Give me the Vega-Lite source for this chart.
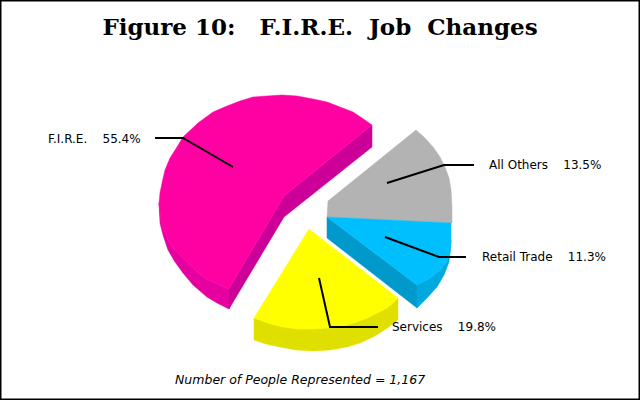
{
  "$schema": "https://vega.github.io/schema/vega-lite/v6.json",
  "width": 640,
  "height": 400,
  "padding": 0,
  "autosize": "none",
  "background": "white",
  "title": {"text": "Figure 10:\u00a0\u00a0\u00a0F.I.R.E.\u00a0\u00a0Job\u00a0\u00a0Changes", "font": "DejaVu Serif", "fontWeight": "bold", "fontSize": 23, "color": "black", "anchor": "middle", "offset": -40},
  "datasets": {
    "slices": [
      {"part": "fire_curve", "i": 1, "x": 159, "y": 203}, {"part": "fire_curve", "i": 2, "x": 160, "y": 213}, {"part": "fire_curve", "i": 3, "x": 161, "y": 220}, {"part": "fire_curve", "i": 4, "x": 164, "y": 230}, {"part": "fire_curve", "i": 5, "x": 168, "y": 240}, {"part": "fire_curve", "i": 6, "x": 174, "y": 249}, {"part": "fire_curve", "i": 7, "x": 182, "y": 257}, {"part": "fire_curve", "i": 8, "x": 192, "y": 267}, {"part": "fire_curve", "i": 9, "x": 203, "y": 277}, {"part": "fire_curve", "i": 10, "x": 215, "y": 283}, {"part": "fire_curve", "i": 11, "x": 229, "y": 289}, {"part": "fire_curve", "i": 12, "x": 229, "y": 309}, {"part": "fire_curve", "i": 13, "x": 217, "y": 303}, {"part": "fire_curve", "i": 14, "x": 207, "y": 297}, {"part": "fire_curve", "i": 15, "x": 193, "y": 285}, {"part": "fire_curve", "i": 16, "x": 183, "y": 273}, {"part": "fire_curve", "i": 17, "x": 175, "y": 262}, {"part": "fire_curve", "i": 18, "x": 168, "y": 250}, {"part": "fire_curve", "i": 19, "x": 163, "y": 235}, {"part": "fire_curve", "i": 20, "x": 160, "y": 223},
      {"part": "fire_side", "i": 1, "x": 229, "y": 289}, {"part": "fire_side", "i": 2, "x": 284, "y": 196}, {"part": "fire_side", "i": 3, "x": 372, "y": 125}, {"part": "fire_side", "i": 4, "x": 372, "y": 147}, {"part": "fire_side", "i": 5, "x": 284, "y": 217}, {"part": "fire_side", "i": 6, "x": 229, "y": 309},
      {"part": "fire", "i": 1, "x": 372, "y": 125}, {"part": "fire", "i": 2, "x": 362, "y": 118}, {"part": "fire", "i": 3, "x": 353, "y": 112}, {"part": "fire", "i": 4, "x": 340, "y": 107}, {"part": "fire", "i": 5, "x": 327, "y": 102}, {"part": "fire", "i": 6, "x": 313, "y": 99}, {"part": "fire", "i": 7, "x": 297, "y": 96}, {"part": "fire", "i": 8, "x": 282, "y": 95}, {"part": "fire", "i": 9, "x": 267, "y": 96}, {"part": "fire", "i": 10, "x": 253, "y": 97}, {"part": "fire", "i": 11, "x": 240, "y": 101}, {"part": "fire", "i": 12, "x": 227, "y": 106}, {"part": "fire", "i": 13, "x": 213, "y": 112}, {"part": "fire", "i": 14, "x": 198, "y": 123}, {"part": "fire", "i": 15, "x": 183, "y": 137}, {"part": "fire", "i": 16, "x": 177, "y": 147}, {"part": "fire", "i": 17, "x": 170, "y": 158}, {"part": "fire", "i": 18, "x": 165, "y": 170}, {"part": "fire", "i": 19, "x": 162, "y": 183}, {"part": "fire", "i": 20, "x": 160, "y": 193}, {"part": "fire", "i": 21, "x": 159, "y": 203}, {"part": "fire", "i": 22, "x": 160, "y": 213}, {"part": "fire", "i": 23, "x": 161, "y": 220}, {"part": "fire", "i": 24, "x": 164, "y": 230}, {"part": "fire", "i": 25, "x": 168, "y": 240}, {"part": "fire", "i": 26, "x": 174, "y": 249}, {"part": "fire", "i": 27, "x": 182, "y": 257}, {"part": "fire", "i": 28, "x": 192, "y": 267}, {"part": "fire", "i": 29, "x": 203, "y": 277}, {"part": "fire", "i": 30, "x": 215, "y": 283}, {"part": "fire", "i": 31, "x": 229, "y": 289}, {"part": "fire", "i": 32, "x": 284, "y": 196},
      {"part": "others", "i": 1, "x": 328, "y": 201}, {"part": "others", "i": 2, "x": 416, "y": 130}, {"part": "others", "i": 3, "x": 425, "y": 138}, {"part": "others", "i": 4, "x": 433, "y": 147}, {"part": "others", "i": 5, "x": 440, "y": 157}, {"part": "others", "i": 6, "x": 445, "y": 167}, {"part": "others", "i": 7, "x": 449, "y": 178}, {"part": "others", "i": 8, "x": 451, "y": 190}, {"part": "others", "i": 9, "x": 452, "y": 207}, {"part": "others", "i": 10, "x": 452, "y": 223}, {"part": "others", "i": 11, "x": 327, "y": 217},
      {"part": "retail_side", "i": 1, "x": 327, "y": 217}, {"part": "retail_side", "i": 2, "x": 417, "y": 285}, {"part": "retail_side", "i": 3, "x": 417, "y": 308}, {"part": "retail_side", "i": 4, "x": 327, "y": 238},
      {"part": "retail_curve", "i": 1, "x": 417, "y": 285}, {"part": "retail_curve", "i": 2, "x": 430, "y": 278}, {"part": "retail_curve", "i": 3, "x": 440, "y": 270}, {"part": "retail_curve", "i": 4, "x": 446, "y": 263}, {"part": "retail_curve", "i": 5, "x": 450, "y": 253}, {"part": "retail_curve", "i": 6, "x": 451, "y": 240}, {"part": "retail_curve", "i": 7, "x": 451, "y": 243}, {"part": "retail_curve", "i": 8, "x": 449, "y": 262}, {"part": "retail_curve", "i": 9, "x": 444, "y": 275}, {"part": "retail_curve", "i": 10, "x": 437, "y": 287}, {"part": "retail_curve", "i": 11, "x": 427, "y": 298}, {"part": "retail_curve", "i": 12, "x": 417, "y": 308},
      {"part": "retail", "i": 1, "x": 327, "y": 217}, {"part": "retail", "i": 2, "x": 451, "y": 223}, {"part": "retail", "i": 3, "x": 451, "y": 240}, {"part": "retail", "i": 4, "x": 450, "y": 253}, {"part": "retail", "i": 5, "x": 446, "y": 263}, {"part": "retail", "i": 6, "x": 440, "y": 270}, {"part": "retail", "i": 7, "x": 430, "y": 278}, {"part": "retail", "i": 8, "x": 417, "y": 285},
      {"part": "services_side", "i": 1, "x": 254, "y": 318}, {"part": "services_side", "i": 2, "x": 268, "y": 323}, {"part": "services_side", "i": 3, "x": 283, "y": 327}, {"part": "services_side", "i": 4, "x": 298, "y": 329}, {"part": "services_side", "i": 5, "x": 313, "y": 329}, {"part": "services_side", "i": 6, "x": 327, "y": 328}, {"part": "services_side", "i": 7, "x": 340, "y": 327}, {"part": "services_side", "i": 8, "x": 354, "y": 323}, {"part": "services_side", "i": 9, "x": 367, "y": 318}, {"part": "services_side", "i": 10, "x": 377, "y": 313}, {"part": "services_side", "i": 11, "x": 387, "y": 308}, {"part": "services_side", "i": 12, "x": 393, "y": 303}, {"part": "services_side", "i": 13, "x": 398, "y": 298}, {"part": "services_side", "i": 14, "x": 398, "y": 320}, {"part": "services_side", "i": 15, "x": 386, "y": 329}, {"part": "services_side", "i": 16, "x": 373, "y": 337}, {"part": "services_side", "i": 17, "x": 360, "y": 343}, {"part": "services_side", "i": 18, "x": 347, "y": 347}, {"part": "services_side", "i": 19, "x": 330, "y": 350}, {"part": "services_side", "i": 20, "x": 313, "y": 351}, {"part": "services_side", "i": 21, "x": 296, "y": 350}, {"part": "services_side", "i": 22, "x": 280, "y": 347}, {"part": "services_side", "i": 23, "x": 266, "y": 344}, {"part": "services_side", "i": 24, "x": 254, "y": 340},
      {"part": "services", "i": 1, "x": 309, "y": 229}, {"part": "services", "i": 2, "x": 398, "y": 298}, {"part": "services", "i": 3, "x": 393, "y": 303}, {"part": "services", "i": 4, "x": 387, "y": 308}, {"part": "services", "i": 5, "x": 377, "y": 313}, {"part": "services", "i": 6, "x": 367, "y": 318}, {"part": "services", "i": 7, "x": 354, "y": 323}, {"part": "services", "i": 8, "x": 340, "y": 327}, {"part": "services", "i": 9, "x": 327, "y": 328}, {"part": "services", "i": 10, "x": 313, "y": 329}, {"part": "services", "i": 11, "x": 298, "y": 329}, {"part": "services", "i": 12, "x": 283, "y": 327}, {"part": "services", "i": 13, "x": 268, "y": 323}, {"part": "services", "i": 14, "x": 254, "y": 318}
    ],
    "leaders": [
      {"slice": "F.I.R.E.", "i": 1, "x": 155, "y": 138}, {"slice": "F.I.R.E.", "i": 2, "x": 183, "y": 138}, {"slice": "F.I.R.E.", "i": 3, "x": 233, "y": 167},
      {"slice": "All Others", "i": 1, "x": 387, "y": 183}, {"slice": "All Others", "i": 2, "x": 444, "y": 165}, {"slice": "All Others", "i": 3, "x": 474, "y": 165},
      {"slice": "Retail Trade", "i": 1, "x": 385, "y": 237}, {"slice": "Retail Trade", "i": 2, "x": 439, "y": 257}, {"slice": "Retail Trade", "i": 3, "x": 466, "y": 257},
      {"slice": "Services", "i": 1, "x": 319, "y": 278}, {"slice": "Services", "i": 2, "x": 330, "y": 327}, {"slice": "Services", "i": 3, "x": 378, "y": 327}
    ],
    "labels": [
      {"label": "F.I.R.E.\u00a0\u00a0\u00a0\u00a055.4%", "x": 48, "y": 139},
      {"label": "All Others\u00a0\u00a0\u00a0\u00a013.5%", "x": 489, "y": 165},
      {"label": "Retail Trade\u00a0\u00a0\u00a0\u00a011.3%", "x": 482, "y": 257},
      {"label": "Services\u00a0\u00a0\u00a0\u00a019.8%", "x": 392, "y": 327}
    ],
    "notes": [
      {"label": "Number of People Represented = 1,167", "x": 175, "y": 380}
    ]
  },
  "layer": [
    {
      "data": {"name": "slices"},
      "mark": {"type": "line", "strokeWidth": 0.5, "interpolate": "linear-closed"},
      "encoding": {
        "x": {"field": "x", "type": "quantitative", "scale": {"domain": [0, 640], "nice": false}, "axis": null},
        "y": {"field": "y", "type": "quantitative", "scale": {"domain": [400, 0], "nice": false}, "axis": null},
        "order": {"field": "i", "type": "quantitative"},
        "fill": {
          "field": "part",
          "type": "nominal",
          "legend": null,
          "scale": {
            "domain": ["fire_curve", "fire_side", "fire", "others", "retail_side", "retail_curve", "retail", "services_side", "services"],
            "range": ["#e6009f", "#cc0099", "#ff00a3", "#b3b3b3", "#0099cc", "#00a8e0", "#00bfff", "#e0e000", "#ffff00"]
          }
        },
        "stroke": {
          "field": "part",
          "type": "nominal",
          "legend": null,
          "scale": {
            "domain": ["fire_curve", "fire_side", "fire", "others", "retail_side", "retail_curve", "retail", "services_side", "services"],
            "range": ["#e6009f", "#cc0099", "#ff00a3", "#b3b3b3", "#0099cc", "#00a8e0", "#00bfff", "#e0e000", "#ffff00"]
          }
        }
      }
    },
    {
      "data": {"name": "leaders"},
      "mark": {"type": "line", "color": "black", "strokeWidth": 2},
      "encoding": {
        "x": {"field": "x", "type": "quantitative"},
        "y": {"field": "y", "type": "quantitative"},
        "detail": {"field": "slice"},
        "order": {"field": "i", "type": "quantitative"}
      }
    },
    {
      "data": {"name": "labels"},
      "mark": {"type": "text", "align": "left", "baseline": "middle", "font": "DejaVu Sans", "fontSize": 12, "color": "black"},
      "encoding": {
        "x": {"field": "x", "type": "quantitative"},
        "y": {"field": "y", "type": "quantitative"},
        "text": {"field": "label"}
      }
    },
    {
      "data": {"name": "notes"},
      "mark": {"type": "text", "align": "left", "baseline": "middle", "font": "DejaVu Sans", "fontStyle": "italic", "fontSize": 12.5, "color": "black"},
      "encoding": {
        "x": {"field": "x", "type": "quantitative"},
        "y": {"field": "y", "type": "quantitative"},
        "text": {"field": "label"}
      }
    }
  ],
  "config": {
    "view": {"stroke": "black", "strokeWidth": 3}
  }
}
